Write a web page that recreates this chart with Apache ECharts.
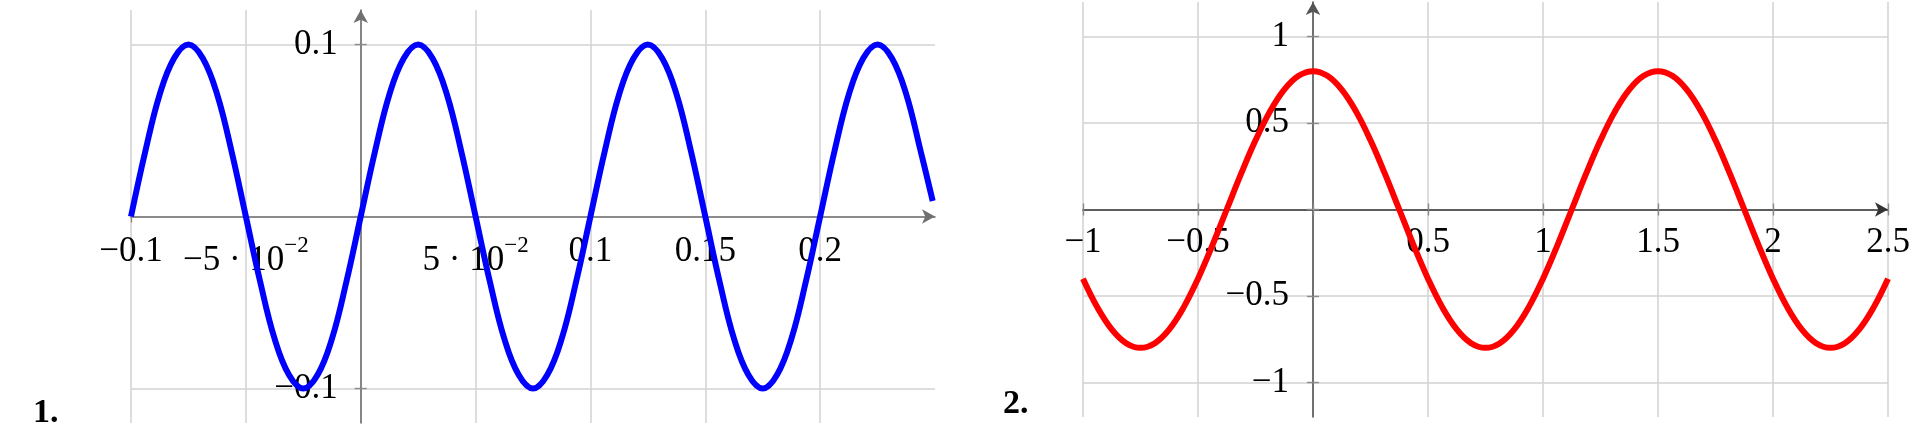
<!DOCTYPE html>
<html>
<head>
<meta charset="utf-8">
<script src="https://cdn.jsdelivr.net/npm/echarts@6/dist/echarts.min.js"></script>
<style>
html,body{margin:0;padding:0;background:#fff;}
#c{width:1918px;height:442px;}
</style>
</head>
<body>
<div id="c"></div>
<script>
// ---------- Chart 1 (blue) ----------
const xs1 = [-0.1,-0.09375,-0.0875,-0.08125,-0.075,-0.06875,-0.0625,-0.05625,-0.05,-0.04375,-0.0375,-0.03125,-0.025,-0.01875,-0.0125,-0.00625,
  0,0.00625,0.0125,0.01875,0.025,0.03125,0.0375,0.04375,0.05,0.05625,0.0625,0.06875,0.075,0.08125,0.0875,0.09375,
  0.1,0.10625,0.1125,0.11875,0.125,0.13125,0.1375,0.14375,0.15,0.15625,0.1625,0.16875,0.175,0.18125,0.1875,0.19375,
  0.2,0.20625,0.2125,0.21875,0.225,0.23125,0.2375,0.24375,0.249];
const ys1 = [0,0.038,0.071,0.092,0.1,0.092,0.071,0.038,0,-0.038,-0.071,-0.092,-0.1,-0.092,-0.071,-0.038,
  0,0.038,0.071,0.092,0.1,0.092,0.071,0.038,0,-0.038,-0.071,-0.092,-0.1,-0.092,-0.071,-0.038,
  0,0.038,0.071,0.092,0.1,0.092,0.071,0.038,0,-0.038,-0.071,-0.092,-0.1,-0.092,-0.071,-0.038,
  0,0.038,0.071,0.092,0.1,0.092,0.071,0.038,0.009];
const xGrid1 = [-0.1,-0.05,0,0.05,0.1,0.15,0.2];
const xLabels1 = [-0.1,-0.05,0.05,0.1,0.15,0.2];
const yGrid1 = [-0.1,0,0.1];
const yLabels1 = [-0.1,0.1];

// ---------- Chart 2 (red) ----------
const xs2 = [-1,-0.9375,-0.875,-0.8125,-0.75,-0.6875,-0.625,-0.5625,-0.5,-0.4375,-0.375,-0.3125,-0.25,-0.1875,-0.125,-0.0625,
  0,0.0625,0.125,0.1875,0.25,0.3125,0.375,0.4375,0.5,0.5625,0.625,0.6875,0.75,0.8125,0.875,0.9375,
  1,1.0625,1.125,1.1875,1.25,1.3125,1.375,1.4375,1.5,1.5625,1.625,1.6875,1.75,1.8125,1.875,1.9375,
  2,2.0625,2.125,2.1875,2.25,2.3125,2.375,2.4375,2.5];
const ys2 = [-0.4,-0.566,-0.693,-0.773,-0.8,-0.773,-0.693,-0.566,-0.4,-0.207,0,0.207,0.4,0.566,0.693,0.773,
  0.8,0.773,0.693,0.566,0.4,0.207,0,-0.207,
  -0.4,-0.566,-0.693,-0.773,-0.8,-0.773,-0.693,-0.566,-0.4,-0.207,0,0.207,0.4,0.566,0.693,0.773,
  0.8,0.773,0.693,0.566,0.4,0.207,0,-0.207,
  -0.4,-0.566,-0.693,-0.773,-0.8,-0.773,-0.693,-0.566,-0.4];
const xGrid2 = [-1,-0.5,0,0.5,1,1.5,2,2.5];
const xLabels2 = [-1,-0.5,0.5,1,1.5,2,2.5];
const yGrid2 = [-1,-0.5,0,0.5,1];
const yLabels2 = [-1,-0.5,0.5,1];

const panelLabels = ['1.', '2.'];

const FONT = '"Liberation Serif", "DejaVu Serif", serif';
const FS = 35;

// plot rectangles (pixels)
const G1 = { left: 131, top: 10, width: 804, height: 413 };
const G2 = { left: 1083, top: 2, width: 805, height: 415 };
const X1 = [-0.1, 0.25], Y1 = [-0.12, 0.12];
const X2 = [-1, 2.5], Y2 = [-1.2, 1.2];

function fmtNum(v) {
  return String(v).replace('-', '\u2212');
}
function fmt1(v) {
  if (Math.abs(Math.abs(v) - 0.05) < 1e-9) {
    return '{m|' + (v < 0 ? '\u2212' : '') + '5 \u00B7 10}{s|\u22122}';
  }
  return fmtNum(v);
}

const richStyle = {
  m: { fontSize: FS, fontFamily: FONT, color: '#000', lineHeight: 44, verticalAlign: 'bottom' },
  s: { fontSize: 23, fontFamily: FONT, color: '#000', lineHeight: 23, verticalAlign: 'top' }
};
const tickStyle = { color: '#8a8a8a', width: 1.4 };

// distance from grid edge to the zero line (moves the axes to cross at the origin)
function zeroFromLow(ext, size) { return size * (0 - ext[0]) / (ext[1] - ext[0]); }
function zeroFromHigh(ext, size) { return size * (ext[1] - 0) / (ext[1] - ext[0]); }

function mainX(grid, ext, off, gridVals, labelVals, fmt, axisColor, margin) {
  return {
    type: 'value', gridIndex: grid, min: ext[0], max: ext[1], position: 'bottom', offset: -off,
    axisLine: { show: true, onZero: false, symbol: ['none', 'arrow'], symbolSize: [11, 13],
      lineStyle: { color: axisColor, width: 1.6 } },
    axisTick: { show: true, customValues: gridVals, length: 6, lineStyle: tickStyle },
    axisLabel: { show: true, customValues: labelVals, formatter: fmt, margin: margin,
      fontSize: FS, fontFamily: FONT, color: '#000', rich: richStyle, hideOverlap: false,
      showMinLabel: true, showMaxLabel: true },
    splitLine: { show: true, lineStyle: { color: '#d2d2d2', width: 1.5 } }
  };
}
function tickX(grid, ext, off, gridVals) {
  return {
    type: 'value', gridIndex: grid, min: ext[0], max: ext[1], position: 'top', offset: -off,
    axisLine: { show: false, onZero: false },
    axisTick: { show: true, customValues: gridVals, length: 6, lineStyle: tickStyle },
    axisLabel: { show: false },
    splitLine: { show: false }
  };
}
function mainY(grid, ext, off, gridVals, labelVals, axisColor, margin) {
  return {
    type: 'value', gridIndex: grid, min: ext[0], max: ext[1], position: 'left', offset: -off,
    axisLine: { show: true, onZero: false, symbol: ['none', 'arrow'], symbolSize: [11, 13],
      lineStyle: { color: axisColor, width: 1.6 } },
    axisTick: { show: true, customValues: gridVals, length: 6, lineStyle: tickStyle },
    axisLabel: { show: true, customValues: labelVals, formatter: fmtNum, margin: margin,
      fontSize: FS, fontFamily: FONT, color: '#000', hideOverlap: false },
    splitLine: { show: true, lineStyle: { color: '#d2d2d2', width: 1.5 } }
  };
}
function tickY(grid, ext, off, gridVals) {
  return {
    type: 'value', gridIndex: grid, min: ext[0], max: ext[1], position: 'right', offset: -off,
    axisLine: { show: false, onZero: false },
    axisTick: { show: true, customValues: gridVals, length: 6, lineStyle: tickStyle },
    axisLabel: { show: false },
    splitLine: { show: false }
  };
}

function pairs(xs, ys) { return xs.map((x, i) => [x, ys[i]]); }

const chart = echarts.init(document.getElementById('c'), null, { renderer: 'canvas' });
chart.setOption({
  backgroundColor: '#fff',
  animation: false,
  grid: [
    Object.assign({ outerBoundsMode: 'none', containLabel: false }, G1),
    Object.assign({ outerBoundsMode: 'none', containLabel: false }, G2)
  ],
  xAxis: [
    mainX(0, X1, zeroFromLow(Y1, G1.height), xGrid1, xLabels1, fmt1, '#707070', 18),
    tickX(0, X1, zeroFromHigh(Y1, G1.height), xGrid1),
    mainX(1, X2, zeroFromLow(Y2, G2.height), xGrid2, xLabels2, fmtNum, '#333333', 16),
    tickX(1, X2, zeroFromHigh(Y2, G2.height), xGrid2)
  ],
  yAxis: [
    mainY(0, Y1, zeroFromLow(X1, G1.width), yGrid1, yLabels1, '#707070', 23),
    tickY(0, Y1, zeroFromHigh(X1, G1.width), yGrid1),
    mainY(1, Y2, zeroFromLow(X2, G2.width), yGrid2, yLabels2, '#555555', 24),
    tickY(1, Y2, zeroFromHigh(X2, G2.width), yGrid2)
  ],
  series: [
    { type: 'line', xAxisIndex: 0, yAxisIndex: 0, data: pairs(xs1, ys1), smooth: 0.4,
      showSymbol: false, lineStyle: { color: '#0000ff', width: 6, cap: 'butt' }, z: 5 },
    { type: 'line', xAxisIndex: 2, yAxisIndex: 2, data: pairs(xs2, ys2), smooth: 0.4,
      showSymbol: false, lineStyle: { color: '#ff0000', width: 6, cap: 'butt' }, z: 5 }
  ],
  graphic: [
    { type: 'text', left: 33, top: 396, style: { text: panelLabels[0], font: 'bold 34px ' + FONT, fill: '#000' } },
    { type: 'text', left: 1003, top: 387, style: { text: panelLabels[1], font: 'bold 34px ' + FONT, fill: '#000' } }
  ]
});
</script>
</body>
</html>
